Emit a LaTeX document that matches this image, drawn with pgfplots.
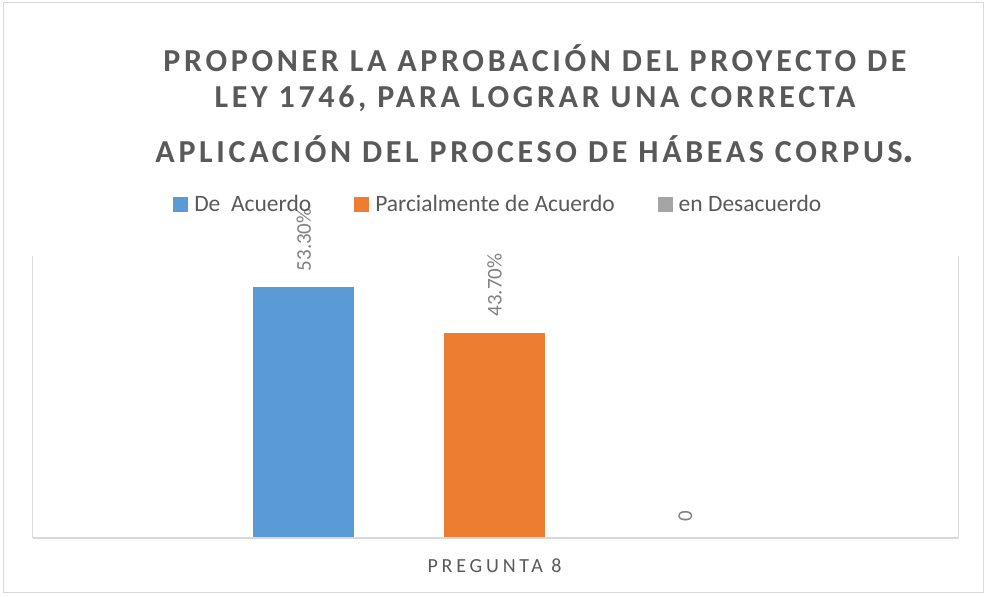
\documentclass[border=0pt]{standalone}
\usepackage{pgfplots}
\pgfplotsset{compat=1.18}
\usepackage{fontspec}
\setmainfont{Carlito}
\newfontfamily\titlefont[LetterSpace=11.5]{Carlito}
\newfontfamily\tickfont[LetterSpace=19]{Carlito}
\definecolor{cblue}{HTML}{5B9BD5}
\definecolor{corange}{HTML}{ED7D31}
\definecolor{cgray}{HTML}{A5A5A5}
\definecolor{txt}{HTML}{595959}
\definecolor{lbl}{HTML}{808080}
\definecolor{frame}{HTML}{D9D9D9}
\begin{document}
\begin{tikzpicture}
\begin{axis}[
  width=925pt, height=282pt, scale only axis,
  xmin=-2.42, xmax=2.43, ymin=0, ymax=60,
  clip=false,
  axis line style={draw=none},
  major tick length=0pt,
  ytick=\empty,
  xtick={0}, xticklabels={PREGUNTA 8},
  xticklabel style={anchor=base, yshift=-35pt, font=\tickfont\fontsize{20}{20}\selectfont, text=txt},
  nodes near coords,
  point meta=explicit symbolic,
  nodes near coords style={font=\fontsize{21}{21}\selectfont, text=lbl, rotate=90, anchor=west, inner sep=0pt, inner xsep=16pt},
  legend columns=3,
  legend image code/.code={\fill[#1] (0pt,-7.5pt) rectangle (15pt,7.5pt); \path (0pt,0pt) -- (19pt,0pt);},
  legend style={draw=none, fill=none, at={(rel axis cs:0.503,1.184)}, anchor=center,
    font=\fontsize{23.5}{23.5}\selectfont, text=txt, inner sep=0pt,
    /tikz/every even column/.append style={column sep=41pt}},
]
\addplot[ybar, bar width=0.529, bar shift=0pt, fill=cblue, draw=none] coordinates {(-1,53.3) [53.30\%]};
\addplot[ybar, bar width=0.529, bar shift=0pt, fill=corange, draw=none] coordinates {(0,43.7) [43.70\%]};
\addplot[ybar, bar width=0.529, bar shift=0pt, fill=cgray, draw=none] coordinates {(1,0) [0]};
\legend{De~~Acuerdo, Parcialmente de Acuerdo, en Desacuerdo}
% frame lines
\draw[frame, line width=1pt] (rel axis cs:0,0) -- (rel axis cs:0,1);
\draw[frame, line width=1pt] (rel axis cs:1,0) -- (rel axis cs:1,1);
\draw[frame, line width=2pt] (rel axis cs:0,0) -- (rel axis cs:1,0);
\path (rel axis cs:-0.035676,-0.20922) rectangle (rel axis cs:1.03027,1.9078);
\draw[frame, line width=1pt] (rel axis cs:-0.03243,-0.19504) rectangle (rel axis cs:1.02703,1.8972);
% title
\node[anchor=base, text=txt, font=\titlefont\bfseries\fontsize{32}{36}\selectfont] at (rel axis cs:0.5427,1.6535) {PROPONER LA APROBACIÓN DEL PROYECTO DE};
\node[anchor=base, text=txt, font=\titlefont\bfseries\fontsize{32}{36}\selectfont] at (rel axis cs:0.5427,1.5248) {LEY 1746, PARA LOGRAR UNA CORRECTA};
\node[anchor=base, text=txt, font=\titlefont\bfseries\fontsize{32}{36}\selectfont] at (rel axis cs:0.5427,1.3298) {APLICACIÓN DEL PROCESO DE HÁBEAS CORPUS{\fontsize{44}{44}\selectfont .}};
\end{axis}
\end{tikzpicture}
\end{document}
